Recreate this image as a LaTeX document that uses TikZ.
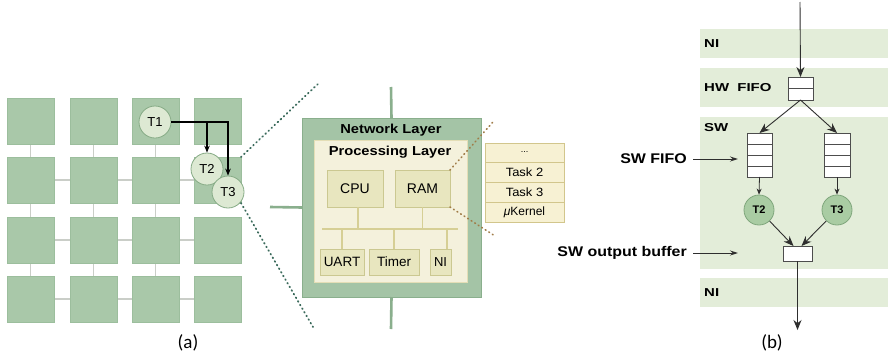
\documentclass[tikz,border=0pt]{standalone}
\usepackage{fontspec}
\usepackage{graphicx}
\setmainfont{Liberation Sans}
\newfontfamily\capfont{Carlito}
\usetikzlibrary{arrows.meta,calc}
\pgfdeclarelayer{bg}
\pgfsetlayers{bg,main}

\definecolor{tile}{HTML}{A9C8A9}
\definecolor{tileedge}{HTML}{9CBE9D}
\definecolor{gridln}{HTML}{CACEC8}
\definecolor{tfill}{HTML}{DDE9D3}
\definecolor{tedge}{HTML}{86AB86}
\definecolor{netfill}{HTML}{A4C4A6}
\definecolor{netedge}{HTML}{8AAF8D}
\definecolor{procfill}{HTML}{F4F1DC}
\definecolor{procedge}{HTML}{E4DEB6}
\definecolor{unitfill}{HTML}{E8E6BF}
\definecolor{unitedge}{HTML}{CBC891}
\definecolor{busln}{HTML}{D6CF95}
\definecolor{taskfill}{HTML}{F7F1D3}
\definecolor{taskedge}{HTML}{D2C68C}
\definecolor{zoomdot}{HTML}{3A6A5B}
\definecolor{ramdot}{HTML}{A07C48}
\definecolor{band}{HTML}{E3EDD9}
\definecolor{bfill}{HTML}{A9CCA3}
\definecolor{bedge}{HTML}{7FA67C}
\definecolor{ink}{HTML}{2E2E2E}

\newcommand\widetext[2]{\scalebox{#1}[1]{#2}}

\begin{document}
\begin{tikzpicture}[x=1pt,y=-1pt,
  corner/.style={anchor=north west,inner sep=0pt,outer sep=0pt},
  tilebox/.style={corner,fill=tile,draw=tileedge,line width=0.4pt,minimum width=47,minimum height=46},
  gridline/.style={draw=gridln,line width=1.2pt},
  tcirc/.style={circle,fill=tfill,draw=tedge,line width=0.8pt,minimum size=32,inner sep=0pt,font=\fontsize{13}{14}\selectfont},
  arrA/.style={draw=black,line width=1.1pt,-{Stealth[length=7pt,width=5.5pt]}},
  zoomdots/.style={draw=zoomdot,line width=1.8pt,line cap=round,dash pattern=on 0.8pt off 3.4pt},
  ramdots/.style={draw=ramdot,line width=1.6pt,line cap=round,dash pattern=on 0.8pt off 3.4pt},
  netline/.style={draw=netedge,line width=2.6pt},
  busline/.style={draw=busln,line width=1.9pt},
  unit/.style={corner,fill=unitfill,draw=unitedge,line width=1pt},
  task/.style={corner,fill=taskfill,draw=taskedge,line width=0.8pt,minimum width=79,font=\fontsize{12}{13}\selectfont},
  bandbox/.style={corner,fill=band,minimum width=188},
  blbl/.style={anchor=west,inner sep=0pt,font=\bfseries\fontsize{11.5}{12}\selectfont},
  sidelbl/.style={anchor=east,inner sep=0pt,font=\bfseries\fontsize{14}{15}\selectfont},
  qbox/.style={corner,fill=white,draw=ink!85,line width=0.8pt},
  bcirc/.style={circle,fill=bfill,draw=bedge,line width=0.8pt,minimum size=30,inner sep=0pt,font=\bfseries\fontsize{11}{12}\selectfont},
  arrB/.style={draw=ink,line width=0.9pt,-{Stealth[length=10pt,width=8pt]}},
  arrS/.style={draw=ink,line width=0.8pt,-{Stealth[length=6pt,width=5pt]}},
  arrL/.style={draw=ink,line width=1pt,-{Stealth[length=8pt,width=5pt]}},
  caption/.style={inner sep=0pt,font=\capfont\fontsize{19}{20}\selectfont}
]
\useasboundingbox (0,0) rectangle (888,359);
\begin{pgfonlayer}{bg}
  \fill[white] (0,0) rectangle (888,359);
\end{pgfonlayer}

% ---------- (a) mesh of tiles ----------
\foreach \c/\x in {1/7,2/70,3/132,4/194}
  \foreach \r/\y in {1/98,2/157,3/217,4/276}
    \node[tilebox] (g\r\c) at (\x,\y) {};

\begin{pgfonlayer}{bg}
  \foreach \c in {1,2,3}
    \foreach \r/\s in {1/2,2/3,3/4}
      \draw[gridline] (g\r\c.south) -- (g\s\c.north);
  \foreach \r in {2,3,4}
    \foreach \c/\d in {1/2,2/3,3/4}
      \draw[gridline] (g\r\c.east) -- (g\r\d.west);
\end{pgfonlayer}

% tasks mapped on the mesh
\node[tcirc] (T1) at (155,122) {T1};
\node[tcirc] (T2) at (207,169) {T2};
\node[tcirc] (T3) at (228,192) {T3};
\draw[arrA] (T1.east) -| (T3.north);
\draw[arrA] (T1.east -| T2.north) -- (T2.north);

% zoom lines towards the tile detail
\coordinate (zTop) at (320,82);
\coordinate (zBot) at (313,327);
\draw[zoomdots] (g24.north east) -- (zTop);
\draw[zoomdots] (g24.south east) -- (zBot);

% ---------- tile detail ----------
\coordinate (netT) at (391,87);
\coordinate (netB) at (391,329);
\coordinate (netL) at (270,207);
\node[corner,fill=netfill,draw=netedge,line width=0.8pt,minimum width=179,minimum height=179] (net) at (302,118) {};
\draw[netline] (netT) -- (net.north);
\draw[netline] (net.south) -- (netB);
\draw[netline] (netL) -- (net.west);
\node[inner sep=0pt,font=\bfseries\fontsize{13}{14}\selectfont] (netlbl) at (391,130) {\widetext{1.13}{Network Layer}};

\node[corner,fill=procfill,draw=procedge,line width=0.6pt,minimum width=153,minimum height=142] (proc) at (314,140) {};
\node[inner sep=0pt,font=\bfseries\fontsize{13}{14}\selectfont] (proclbl) at (390,152) {\widetext{1.13}{Processing Layer}};

\node[unit,minimum width=56,minimum height=37,font=\fontsize{14}{15}\selectfont] (cpu) at (327,170) {CPU};
\node[unit,minimum width=55,minimum height=37,font=\fontsize{14}{15}\selectfont] (ram) at (395,170) {RAM};
\node[unit,minimum width=44,minimum height=26,font=\fontsize{13.5}{14}\selectfont] (uart) at (320,249) {UART};
\node[unit,minimum width=50,minimum height=26,font=\fontsize{13.5}{14}\selectfont] (timer) at (369,249) {Timer};
\node[unit,minimum width=21,minimum height=26,font=\fontsize{13}{14}\selectfont] (ni) at (430,249) {NI};

\coordinate (busL) at (322,229);
\coordinate (busR) at (458,229);
\draw[busline] (busL) -- (busR);
\draw[busline] ([xshift=3pt]cpu.south) -- ([xshift=3pt]cpu.south |- busL);
\draw[busline] (ram.south) -- (ram.south |- busL);
\draw[busline] (uart.north |- busL) -- (uart.north);
\draw[busline] (timer.north |- busL) -- (timer.north);
\draw[busline] ([xshift=6.5pt]ni.north |- busL) -- ([xshift=6.5pt]ni.north);

% memory contents
\node[task,minimum height=19,font=\fontsize{9}{10}\selectfont] (t0) at (485,143) {...};
\node[task,minimum height=20] (t1) at (485,162) {\widetext{1.08}{Task 2}};
\node[task,minimum height=20] (t2) at (485,182) {\widetext{1.08}{Task 3}};
\node[task,minimum height=20] (t3) at (485,202) {{\itshape μ}Kernel};
\coordinate (rTop) at (493,122);
\coordinate (rBot) at (495,236);
\draw[ramdots] (ram.north east) -- (rTop);
\draw[ramdots] (ram.south east) -- (rBot);

\node[caption] (capA) at (188,343) {(a)};

% ---------- (b) software FIFOs ----------
\node[bandbox,minimum height=29] (bandNI1) at (700,29) {};
\node[bandbox,minimum height=39] (bandHW) at (700,68) {};
\node[bandbox,minimum height=152] (bandSW) at (700,117) {};
\node[bandbox,minimum height=29] (bandNI2) at (700,278) {};
\node[blbl] (lNI1) at (704,44) {\widetext{1.3}{NI}};
\node[blbl] (lHW) at (704,88) {\widetext{1.3}{HW\ \ FIFO}};
\node[blbl] (lSW) at (704,128) {\widetext{1.3}{SW}};
\node[blbl] (lNI2) at (704,293) {\widetext{1.3}{NI}};

\node[qbox,minimum width=25,minimum height=23] (hwf) at (788,77) {};
\draw[ink!85,line width=0.7pt] (hwf.west) -- (hwf.east);

\node[qbox,minimum width=25,minimum height=44] (fifoL) at (747,133) {};
\node[qbox,minimum width=26,minimum height=44] (fifoR) at (824,133) {};
\foreach \f in {fifoL,fifoR}
  \foreach \k in {0.25,0.5,0.75}
    \draw[ink!85,line width=0.7pt] ($(\f.north west)!\k!(\f.south west)$) -- ($(\f.north east)!\k!(\f.south east)$);

\node[bcirc] (T2b) at (759,210) {T2};
\node[bcirc] (T3b) at (837,210) {T3};
\node[qbox,minimum width=29,minimum height=15] (buf) at (783,246) {};

\coordinate (inTop) at (800,2);
\coordinate (outBot) at (797.5,330);
\draw[arrB] (inTop) -- (hwf.north);
\draw[arrB] (hwf.south) -- (fifoL.north);
\draw[arrB] (hwf.south) -- (fifoR.north);
\draw[arrS] (fifoL.south) -- (T2b.north);
\draw[arrS] (fifoR.south) -- (T3b.north);
\draw[arrB] (T2b) -- ([xshift=-4pt]buf.north);
\draw[arrB] (T3b) -- ([xshift=4pt]buf.north);
\draw[arrB] (buf.south) -- (outBot);

\node[sidelbl] (swfifo) at (687,159) {\widetext{1.14}{SW FIFO}};
\coordinate (swfifoTip) at (738,159);
\draw[arrL] ([xshift=6pt]swfifo.east) -- (swfifoTip);
\node[sidelbl] (swbuf) at (687,253) {\widetext{1.14}{SW output buffer}};
\coordinate (swbufTip) at (738,253);
\draw[arrL] ([xshift=6pt]swbuf.east) -- (swbufTip);

\node[caption] (capB) at (772,343) {(b)};
\end{tikzpicture}
\end{document}
